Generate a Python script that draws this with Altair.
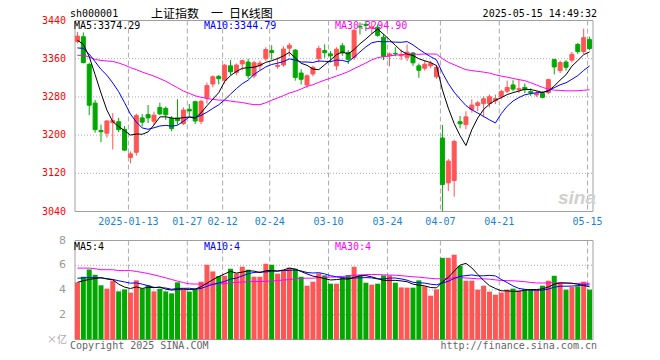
import altair as alt
import pandas as pd

# ---------------- data ----------------
opens = [3396, 3406, 3347.94, 3267.07, 3209.8, 3203.9, 3226, 3228, 3212, 3153.2,
         3164, 3236, 3243, 3229, 3258, 3256, 3235, 3236, 3224, 3254,
         3270, 3229, 3278, 3307, 3323, 3315, 3345, 3331, 3349, 3353,
         3324, 3345, 3360, 3377, 3344, 3347, 3382, 3378, 3330, 3305,
         3328, 3360, 3377, 3370, 3345, 3387, 3373, 3363, 3428, 3432,
         3424, 3426, 3405, 3366, 3371, 3366, 3363, 3372, 3345, 3340,
         3345, 3322, 3194, 3100, 3105, 3228, 3222, 3254, 3262, 3266,
         3266, 3272, 3280, 3292, 3305, 3295, 3300, 3291, 3284, 3287,
         3289, 3358, 3335, 3353, 3357, 3390, 3375, 3400]
highs = [3416, 3415, 3351.7, 3273.6, 3222, 3230.6, 3246, 3236, 3219, 3166,
         3245, 3244, 3263, 3249, 3268, 3260, 3240, 3275, 3258, 3265,
         3272, 3274, 3310, 3325, 3326, 3349, 3357, 3350, 3358, 3360,
         3356, 3356, 3384, 3388, 3363, 3386, 3393, 3380, 3338, 3327,
         3345, 3387, 3390, 3376, 3384, 3393, 3378, 3423, 3436, 3439,
         3438, 3432, 3412, 3373, 3384, 3379, 3390, 3374, 3350, 3357,
         3356, 3347, 3221, 3150, 3190, 3240, 3250, 3275, 3272, 3281,
         3285, 3285, 3295, 3314, 3315, 3317, 3308, 3298, 3293, 3292,
         3318, 3359, 3356, 3357, 3374, 3393, 3423, 3406]
lows = [3392, 3350, 3242.09, 3205, 3185, 3195, 3170, 3206, 3167, 3140.98,
        3157, 3218, 3225, 3221, 3242, 3232, 3208, 3222, 3221, 3240,
        3223, 3223, 3266, 3300, 3306, 3308, 3326, 3325, 3336, 3318,
        3319, 3336, 3355, 3358, 3339, 3343, 3365, 3314, 3306, 3299,
        3323, 3352, 3362, 3352, 3336, 3366, 3349, 3357, 3411, 3418,
        3412, 3406, 3357, 3344, 3365, 3357, 3355, 3345, 3320, 3335,
        3340, 3318, 3040.69, 3083, 3071, 3214, 3212, 3247, 3250, 3237,
        3258, 3265, 3275, 3288, 3292, 3288, 3288, 3282, 3280, 3277,
        3286, 3327, 3330, 3335, 3352, 3370, 3370, 3378]
closes = [3407.33, 3351.76, 3262.56, 3211.43, 3206.92, 3229.64, 3230.17, 3211.39, 3168.52, 3160.76,
          3240.94, 3227.12, 3236.03, 3241.82, 3244.38, 3242.62, 3213.62, 3230.16, 3252.63, 3250.60,
          3229.49, 3270.66, 3303.67, 3322.17, 3318.06, 3346.39, 3332.48, 3346.72, 3355.83, 3324.49,
          3351.54, 3350.78, 3379.11, 3373.03, 3346.04, 3380.21, 3388.06, 3320.90, 3316.93, 3324.21,
          3341.96, 3381.10, 3372.55, 3366.16, 3379.83, 3371.92, 3358.73, 3419.56, 3426.43, 3429.76,
          3426.43, 3408.95, 3364.83, 3370.03, 3369.98, 3368.70, 3373.75, 3351.31, 3335.75, 3348.44,
          3350.13, 3342.01, 3096.58, 3145.55, 3186.81, 3223.64, 3238.23, 3262.81, 3267.66, 3276.00,
          3280.34, 3276.73, 3291.43, 3299.76, 3296.36, 3297.29, 3295.06, 3288.41, 3286.65, 3279.03,
          3316.11, 3342.67, 3352.00, 3342.00, 3369.24, 3374.87, 3403.95, 3381.35]
volumes = [4.62, 5.07, 5.66, 5.23, 4.38, 4.11, 4.75, 3.89, 4.05, 3.79,
           4.78, 4.11, 4.38, 3.89, 4.08, 3.89, 3.73, 4.62, 4.08, 3.87,
           4.08, 4.67, 6.04, 5.50, 5.13, 5.15, 5.72, 5.34, 5.88, 5.64,
           5.07, 5.07, 6.12, 6.04, 5.32, 5.56, 5.80, 5.72, 5.07, 4.35,
           4.67, 5.34, 5.18, 4.51, 4.51, 4.97, 5.21, 5.88, 5.18, 4.59,
           4.43, 4.51, 5.18, 5.18, 4.59, 4.21, 4.19, 4.19, 4.78, 4.30,
           3.54, 4.05, 6.60, 6.60, 6.85, 5.96, 4.75, 4.75, 4.03, 4.35,
           3.87, 3.62, 3.79, 4.03, 4.11, 3.95, 4.05, 4.05, 4.03, 4.35,
           4.75, 5.15, 4.59, 4.03, 4.24, 4.30, 4.67, 4.03]

# moving-average values at the left edge (windows reach before the first candle)
ma5_head = [3398.49, 3390.17, 3363.97, 3326.64]
ma10_head = [3382.55, 3381.58, 3369.61, 3353.75, 3337.64, 3325.47, 3309.16, 3290.94, 3267.99]
ma30_head = [3367.01, 3367.20, 3363.69, 3358.39, 3356.38, 3355.24, 3354.26, 3350.98, 3346.74, 3341.21,
             3337.11, 3332.06, 3327.77, 3323.53, 3318.21, 3312.88, 3305.91, 3299.17, 3292.21, 3287.50,
             3282.27, 3279.24, 3276.62, 3275.03, 3273.36, 3273.20, 3271.17, 3269.61, 3268.20]
vma5_head = [4.62, 4.75, 4.85, 4.93]
vma10_head = [4.95, 4.98, 5.00, 5.00, 4.98, 4.92, 4.85, 4.75, 4.65]
vma30_head = [5.77, 5.77, 5.77, 5.72, 5.64, 5.64, 5.64, 5.57, 5.57, 5.57,
              5.50, 5.42, 5.33, 5.22, 5.10, 4.98, 4.85, 4.72, 4.60, 4.50,
              4.48, 4.48, 4.48, 4.48, 4.48, 4.52, 4.58, 4.62, 4.64]

price_ticks = [3440, 3360, 3280, 3200, 3120, 3040]
price_grid = [3360, 3280, 3200, 3120]
vol_ticks = [8, 6, 4, 2]
vol_grid = [6, 4, 2]
date_idx = [9, 19, 25, 33, 43, 53, 62, 72, 87]
date_lbl = ["2025-01-13", "01-27", "02-12", "02-24", "03-10", "03-24", "04-07", "04-21", "05-15"]
price_legend = ["MA5:3374.29", "MA10:3344.79", "MA30:3294.90"]
vol_legend = ["MA5:4", "MA10:4", "MA30:4"]
code_text = "sh000001"
title_text = "上证指数\u3000一\u2002日K线图"
time_text = "2025-05-15 14:49:32"

# ---------------- styling ----------------
RED = "#ff5555"
GREEN = "#00a800"
MA_COLORS = ["#000000", "#0000ff", "#ff00ff"]
GRID = "#aaaaaa"
FRAME = "#a0a0a0"
MONO = "DejaVu Sans Mono"
W, H = 528, 320

n = len(closes)
x_lo = -2.5 / 6
x_hi = x_lo + n


def ma(vals, head, w):
    s = pd.Series(vals, dtype=float).rolling(w).mean()
    s.iloc[:len(head)] = head
    return s


df = pd.DataFrame({"i": range(n), "o": opens, "h": highs, "l": lows, "c": closes, "v": volumes})
df["col"] = [RED if c >= o else GREEN for o, c in zip(opens, closes)]
df["v0"] = 0.0
df["ma5"] = ma(closes, ma5_head, 5)
df["ma10"] = ma(closes, ma10_head, 10)
df["ma30"] = ma(closes, ma30_head, 30)
df["vma5"] = ma(volumes, vma5_head, 5)
df["vma10"] = ma(volumes, vma10_head, 10)
df["vma30"] = ma(volumes, vma30_head, 30)

x_scale = alt.Scale(domain=[x_lo, x_hi], nice=False, zero=False)
p_scale = alt.Scale(domain=[3040, 3440], range=[191.5, 0.5], nice=False, zero=False)
v_scale = alt.Scale(domain=[0, 8], range=[319.5, 220.5], nice=False, zero=False)

X = alt.X("i:Q", scale=x_scale, axis=None)


def PY(f):
    return alt.Y(f, type="quantitative", scale=p_scale, axis=None)


def VY(f):
    return alt.Y(f, type="quantitative", scale=v_scale, axis=None)


base = alt.Chart(df)
layers = []

# frames
pframe = pd.DataFrame({"x0": [x_lo], "x1": [x_hi], "y0": [price_ticks[0]], "y1": [price_ticks[-1]]})
vframe = pd.DataFrame({"x0": [x_lo], "x1": [x_hi], "y0": [vol_ticks[0]], "y1": [0]})
layers.append(alt.Chart(pframe).mark_rect(fill="white", stroke=FRAME, strokeWidth=1).encode(
    x=alt.X("x0:Q", scale=x_scale, axis=None), x2="x1:Q", y=PY("y0"), y2="y1:Q"))
layers.append(alt.Chart(vframe).mark_rect(fill="white", stroke=FRAME, strokeWidth=1).encode(
    x=alt.X("x0:Q", scale=x_scale, axis=None), x2="x1:Q", y=VY("y0"), y2="y1:Q"))

# horizontal dotted grids
pg = pd.DataFrame({"y": price_grid, "x0": x_lo, "x1": x_hi})
vg = pd.DataFrame({"y": vol_grid, "x0": x_lo, "x1": x_hi})
layers.append(alt.Chart(pg).mark_rule(color=GRID, strokeDash=[1, 2], strokeWidth=1).encode(
    x=alt.X("x0:Q", scale=x_scale, axis=None), x2="x1:Q", y=PY("y")))
layers.append(alt.Chart(vg).mark_rule(color=GRID, strokeDash=[1, 2], strokeWidth=1).encode(
    x=alt.X("x0:Q", scale=x_scale, axis=None), x2="x1:Q", y=VY("y")))

# vertical dashed grids at the date ticks
dt = pd.DataFrame({"i": date_idx, "lbl": date_lbl, "p0": price_ticks[0], "p1": price_ticks[-1],
                   "v0": vol_ticks[0], "v1": 0})
layers.append(alt.Chart(dt).mark_rule(color=GRID, strokeDash=[5, 3], strokeWidth=1, xOffset=-2).encode(
    x=X, y=PY("p0"), y2="p1:Q"))
layers.append(alt.Chart(dt).mark_rule(color=GRID, strokeDash=[5, 3], strokeWidth=1, xOffset=-2).encode(
    x=X, y=VY("v0"), y2="v1:Q"))

# volume bars
layers.append(base.mark_bar(size=5, orient="vertical").encode(
    x=X, y=VY("v"), y2="v0:Q", color=alt.Color("col:N", scale=None)))
# volume MAs
for f, c in zip(["vma30", "vma10", "vma5"], MA_COLORS[::-1]):
    layers.append(base.mark_line(color=c, strokeWidth=1).encode(x=X, y=VY(f)))

# candle wicks and bodies
layers.append(base.mark_rule(strokeWidth=1).encode(
    x=X, y=PY("l"), y2="h:Q", color=alt.Color("col:N", scale=None)))
layers.append(base.mark_bar(size=4, strokeWidth=1, orient="vertical").encode(
    x=X, y=PY("o"), y2="c:Q", color=alt.Color("col:N", scale=None),
    stroke=alt.Stroke("col:N", scale=None)))
# price MAs
for f, c in zip(["ma30", "ma10", "ma5"], MA_COLORS[::-1]):
    layers.append(base.mark_line(color=c, strokeWidth=1).encode(x=X, y=PY(f)))

# axis labels
pt = pd.DataFrame({"y": price_ticks, "t": [str(v) for v in price_ticks]})
layers.append(alt.Chart(pt).mark_text(align="right", baseline="middle", font=MONO, fontSize=10,
                                      color="#ff0000").encode(
    x=alt.value(-4), y=PY("y"), text="t:N"))
vt = pd.DataFrame({"y": vol_ticks, "t": [str(v) for v in vol_ticks]})
layers.append(alt.Chart(vt).mark_text(align="right", baseline="middle", font="DejaVu Sans", fontSize=11,
                                      color="#999999").encode(
    x=alt.value(-4), y=VY("y"), text="t:N"))
layers.append(alt.Chart(pd.DataFrame({"t": ["×亿"]})).mark_text(
    align="right", baseline="middle", font="Noto Sans CJK SC", fontSize=10, color="#aaaaaa").encode(
    x=alt.value(-3), y=alt.value(319.5), text="t:N"))
layers.append(alt.Chart(dt).mark_text(align="center", baseline="middle", font=MONO, fontSize=10,
                                      color="#1a82d4", dx=-2).encode(
    x=X, y=alt.value(201.5), text="lbl:N"))

# legends
for txt, c, xp in zip(price_legend, MA_COLORS, [4, 134, 265]):
    layers.append(alt.Chart(pd.DataFrame({"t": [txt]})).mark_text(
        align="left", baseline="middle", font=MONO, fontSize=10, color=c).encode(
        x=alt.value(xp), y=alt.value(6), text="t:N"))
for txt, c, xp in zip(vol_legend, MA_COLORS, [4, 134, 265]):
    layers.append(alt.Chart(pd.DataFrame({"t": [txt]})).mark_text(
        align="left", baseline="middle", font=MONO, fontSize=10, color=c).encode(
        x=alt.value(xp), y=alt.value(226.5), text="t:N"))

# titles
layers.append(alt.Chart(pd.DataFrame({"t": [code_text]})).mark_text(
    align="left", baseline="middle", font=MONO, fontSize=10, color="#000000").encode(
    x=alt.value(0), y=alt.value(-6.5), text="t:N"))
layers.append(alt.Chart(pd.DataFrame({"t": [title_text]})).mark_text(
    align="left", baseline="middle", font="Noto Sans CJK SC", fontSize=12, color="#000000").encode(
    x=alt.value(81), y=alt.value(-6), text="t:N"))
layers.append(alt.Chart(pd.DataFrame({"t": [time_text]})).mark_text(
    align="right", baseline="middle", font=MONO, fontSize=10, color="#000000").encode(
    x=alt.value(W - 1), y=alt.value(-6.5), text="t:N"))

# footer
layers.append(alt.Chart(pd.DataFrame({"t": ["Copyright 2025 SINA.COM"]})).mark_text(
    align="left", baseline="middle", font=MONO, fontSize=10, color="#666666").encode(
    x=alt.value(0), y=alt.value(326), text="t:N"))
layers.append(alt.Chart(pd.DataFrame({"t": ["http://finance.sina.com.cn"]})).mark_text(
    align="right", baseline="middle", font=MONO, fontSize=10, color="#666666").encode(
    x=alt.value(W - 1), y=alt.value(326), text="t:N"))
# watermark
layers.append(alt.Chart(pd.DataFrame({"t": ["sina"]})).mark_text(
    align="right", baseline="middle", font="Liberation Sans", fontSize=19, fontStyle="italic",
    fontWeight="bold", color="#d0d0d0").encode(
    x=alt.value(W - 2), y=alt.value(178), text="t:N"))

chart = alt.layer(*layers).resolve_scale(y="independent").properties(
    width=W, height=H,
    autosize=alt.AutoSizeParams(type="none"),
    padding={"left": 62, "top": 12, "right": 40, "bottom": 12},
    background="white",
).configure_view(stroke=None)

chart.save("out.html", embed_options={"renderer": "svg", "actions": False})
